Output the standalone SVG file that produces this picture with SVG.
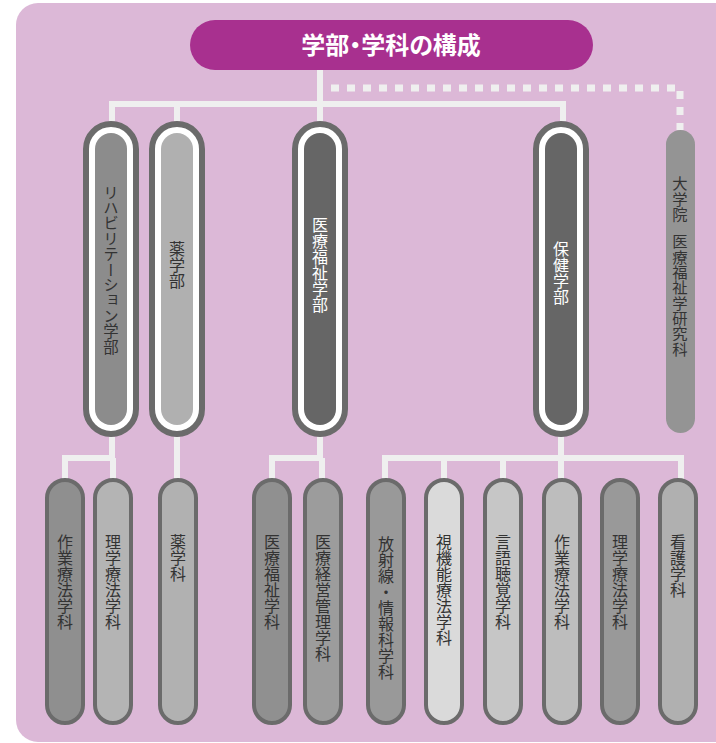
<svg xmlns="http://www.w3.org/2000/svg" width="716" height="743" viewBox="0 0 716 743">
<style>
.bg{fill:#dcb8d7}
.ln{fill:none;stroke:#efefef;stroke-width:6;stroke-linejoin:miter}
.dot{fill:none;stroke:#efefef;stroke-width:7;stroke-dasharray:8 8}
.ring{fill:#ffffff;stroke:#6b6b6b;stroke-width:6}
.sub{stroke:#6b6b6b;stroke-width:4}
.vt{font-family:"Noto Sans CJK JP","Noto Sans",sans-serif;writing-mode:vertical-rl;text-anchor:start}
.dk{fill:#333333}
.wt{fill:#ffffff}
.t16{font-size:16px}
</style>
<rect class="bg" x="16" y="3" width="740" height="739" rx="22"/>
<g id="connectors">
<path class="ln" d="M320 70 V121"/>
<path class="ln" d="M112 121 V104 H563 V121"/>
<path class="ln" d="M177 104 V121"/>
<path class="dot" d="M331 88 H680 V130"/>
<path class="ln" d="M112 437 V458 H65 V480"/>
<path class="ln" d="M113 458 V480"/>
<path class="ln" d="M177 437 V480"/>
<path class="ln" d="M320 437 V458 H272 V480"/>
<path class="ln" d="M322 458 V480"/>
<path class="ln" d="M561 437 V480"/>
<path class="ln" d="M385 480 V458 H681 V480"/>
<path class="ln" d="M444 458 V480"/>
<path class="ln" d="M503 458 V480"/>
</g>
<g id="title">
<rect x="190" y="20" width="403" height="50" rx="25" fill="#a8308f"/>
<text x="391" y="54" text-anchor="middle" font-family="'Noto Sans CJK JP','Noto Sans',sans-serif" font-size="24" font-weight="bold" fill="#ffffff" style="font-feature-settings:'palt'">学部・学科の構成</text>
</g>
<g id="rehab">
<rect class="ring" x="86" y="124" width="50" height="310" rx="25"/>
<rect x="95" y="133" width="32" height="292" rx="16" fill="#8c8c8c"/>
<text class="vt dk" x="111" y="185" font-size="15.4">リハビリテーション学部</text>
</g>
<g id="yakugakubu">
<rect class="ring" x="152" y="124" width="50" height="310" rx="25"/>
<rect x="161" y="133" width="32" height="292" rx="16" fill="#b0b0b0"/>
<text class="vt dk t16" x="177" y="241">薬学部</text>
</g>
<g id="iryofukushi">
<rect class="ring" x="295" y="124" width="50" height="310" rx="25"/>
<rect x="304" y="133" width="32" height="292" rx="16" fill="#666666"/>
<text class="vt wt t16" x="320" y="217">医療福祉学部</text>
</g>
<g id="hoken">
<rect class="ring" x="536" y="124" width="50" height="310" rx="25"/>
<rect x="545" y="133" width="32" height="292" rx="16" fill="#666666"/>
<text class="vt wt t16" x="561" y="241">保健学部</text>
</g>
<g id="graduate">
<rect x="666" y="130" width="29" height="303" rx="14.5" fill="#949494"/>
<text class="vt dk" x="680" y="176" font-size="15.3">大学院 <tspan dy="9">医療福祉学研究科</tspan></text>
</g>
<g id="r-ot">
<rect class="sub" x="47" y="480" width="36" height="243" rx="18" fill="#8f8f8f"/>
<text class="vt dk t16" x="65" y="534">作業療法学科</text>
</g>
<g id="r-pt">
<rect class="sub" x="95" y="480" width="36" height="243" rx="18" fill="#b4b4b4"/>
<text class="vt dk t16" x="113" y="534">理学療法学科</text>
</g>
<g id="yakugakuka">
<rect class="sub" x="160" y="480" width="36" height="243" rx="18" fill="#b1b1b1"/>
<text class="vt dk t16" x="178" y="534">薬学科</text>
</g>
<g id="i-fukushi">
<rect class="sub" x="254" y="480" width="36" height="243" rx="18" fill="#909090"/>
<text class="vt dk t16" x="272" y="534">医療福祉学科</text>
</g>
<g id="i-keiei">
<rect class="sub" x="305" y="480" width="36" height="243" rx="18" fill="#9c9c9c"/>
<text class="vt dk t16" x="323" y="534">医療経営管理学科</text>
</g>
<g id="h-hoshasen">
<rect class="sub" x="368" y="480" width="36" height="243" rx="18" fill="#999999"/>
<text class="vt dk t16" x="386" y="536">放射線・情報科学科</text>
</g>
<g id="h-shikino">
<rect class="sub" x="426" y="480" width="36" height="243" rx="18" fill="#dadada"/>
<text class="vt dk t16" x="444" y="534">視機能療法学科</text>
</g>
<g id="h-gengo">
<rect class="sub" x="485" y="480" width="36" height="243" rx="18" fill="#c6c6c6"/>
<text class="vt dk t16" x="503" y="534">言語聴覚学科</text>
</g>
<g id="h-ot">
<rect class="sub" x="544" y="480" width="36" height="243" rx="18" fill="#bdbdbd"/>
<text class="vt dk t16" x="562" y="534">作業療法学科</text>
</g>
<g id="h-pt">
<rect class="sub" x="602" y="480" width="36" height="243" rx="18" fill="#999999"/>
<text class="vt dk t16" x="620" y="534">理学療法学科</text>
</g>
<g id="h-kango">
<rect class="sub" x="660" y="480" width="36" height="243" rx="18" fill="#b0b0b0"/>
<text class="vt dk t16" x="678" y="534">看護学科</text>
</g>
</svg>
